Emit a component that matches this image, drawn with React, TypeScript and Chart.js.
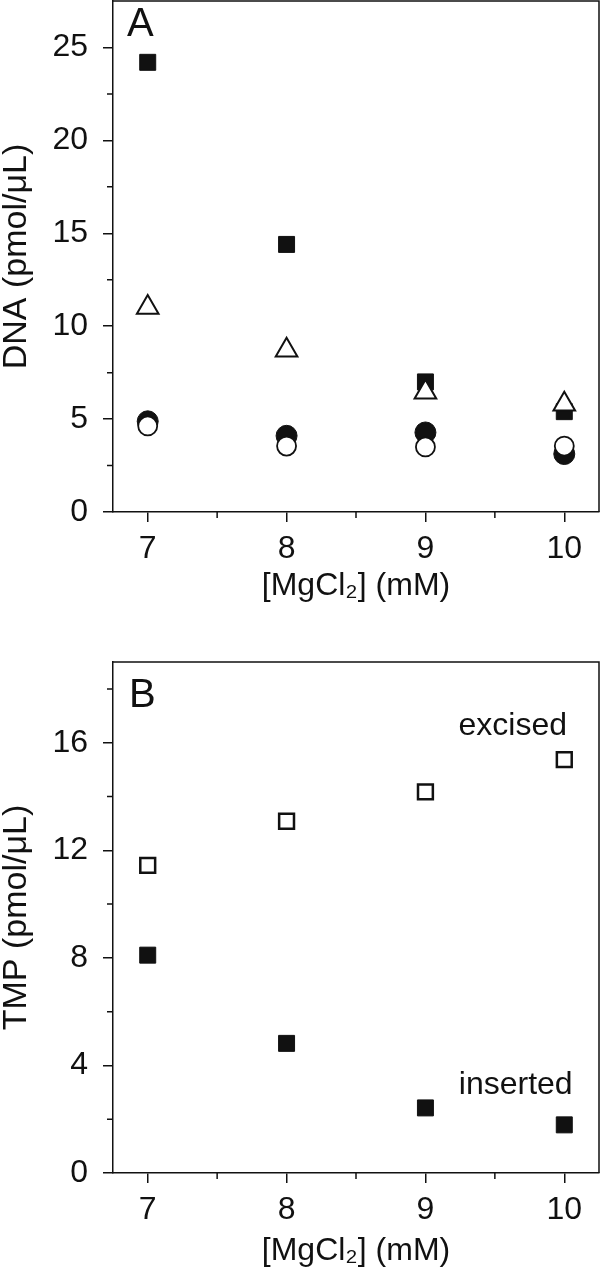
import React, { useEffect, useRef } from "react";
import { Chart, registerables } from "chart.js";

Chart.register(...registerables);

// ---------- data ----------
const mgcl2 = [7, 8, 9, 10];

// Panel A: DNA (pmol/µL)
const dnaFilledSquare = [24.2, 14.4, 7.0, 5.4];
const dnaOpenTriangle = [11.0, 8.7, 6.45, 5.8];
const dnaFilledCircle = [4.88, 4.1, 4.28, 3.12];
const dnaOpenCircle = [4.63, 3.55, 3.5, 3.55];

// Panel B: TMP (pmol/µL)
const tmpExcised = [11.44, 13.08, 14.17, 15.37];
const tmpInserted = [8.1, 4.82, 2.42, 1.79];

// ticks
const xMajor = [7, 8, 9, 10];
const xMinor = [7.5, 8.5, 9.5];
const yMajorA = [0, 5, 10, 15, 20, 25];
const yMinorA = [2.5, 7.5, 12.5, 17.5, 22.5];
const yMajorB = [0, 4, 8, 12, 16];
const yMinorB = [2, 6, 10, 14, 18];

const xTitle = "[MgCl\u2082] (mM)";
const yTitleA = "DNA (pmol/\u03bcL)";
const yTitleB = "TMP (pmol/\u03bcL)";

const FONT = "'Liberation Sans', Arial, Helvetica, sans-serif";
const INK = "#111";

const pts = (ys: number[]) => mgcl2.map((x, i) => ({ x, y: ys[i] }));

// ---------- plugins ----------
const framePlugin = {
  id: "frame",
  afterDraw(chart: any) {
    const { ctx, chartArea } = chart;
    ctx.save();
    ctx.strokeStyle = INK;
    ctx.lineWidth = 1.5;
    ctx.beginPath();
    ctx.moveTo(chartArea.left, chartArea.top);
    ctx.lineTo(chartArea.right, chartArea.top);
    ctx.lineTo(chartArea.right, chartArea.bottom);
    ctx.stroke();
    ctx.restore();
  },
};

const minorTickPlugin = {
  id: "minorTicks",
  afterDraw(chart: any, _args: any, opts: any) {
    const { ctx, chartArea, scales } = chart;
    ctx.save();
    ctx.strokeStyle = INK;
    ctx.lineWidth = 1.5;
    ctx.beginPath();
    (opts.x || []).forEach((v: number) => {
      const px = scales.x.getPixelForValue(v);
      ctx.moveTo(px, chartArea.bottom);
      ctx.lineTo(px, chartArea.bottom + opts.len);
    });
    (opts.y || []).forEach((v: number) => {
      const py = scales.y.getPixelForValue(v);
      ctx.moveTo(chartArea.left, py);
      ctx.lineTo(chartArea.left - opts.len, py);
    });
    ctx.stroke();
    ctx.restore();
  },
};

const textPlugin = {
  id: "panelText",
  afterDraw(chart: any, _args: any, opts: any) {
    const { ctx, chartArea, scales } = chart;
    ctx.save();
    ctx.fillStyle = INK;
    ctx.textBaseline = "alphabetic";
    if (opts.letter) {
      ctx.font = `40px ${FONT}`;
      ctx.textAlign = "left";
      ctx.fillText(opts.letter, chartArea.left + opts.letterDx, chartArea.top + opts.letterDy);
    }
    (opts.notes || []).forEach((n: any) => {
      ctx.font = `32px ${FONT}`;
      ctx.textAlign = "right";
      ctx.fillText(n.text, scales.x.getPixelForValue(n.x), scales.y.getPixelForValue(n.y));
    });
    ctx.restore();
  },
};

// ---------- config builder ----------
function buildConfig(p: {
  datasets: any[];
  yMax: number;
  yMajor: number[];
  yMinor: number[];
  yTitle: string;
  padTop: number;
  xAxisHeight: number;
  xTitlePadBottom: number;
  letter: string;
  letterDx: number;
  letterDy: number;
  notes: any[];
}) {
  return {
    type: "scatter" as const,
    data: { datasets: p.datasets },
    plugins: [framePlugin, minorTickPlugin, textPlugin],
    options: {
      animation: false,
      responsive: false,
      devicePixelRatio: 1,
      layout: { autoPadding: false, padding: { top: p.padTop, right: 1, left: 0, bottom: 0 } },
      plugins: {
        legend: { display: false },
        tooltip: { enabled: false },
        minorTicks: { x: xMinor, y: p.yMinor, len: 6 },
        panelText: { letter: p.letter, letterDx: p.letterDx, letterDy: p.letterDy, notes: p.notes },
      },
      scales: {
        x: {
          type: "linear",
          position: "bottom",
          min: 6.75,
          max: 10.25,
          afterBuildTicks: (s: any) => {
            s.ticks = xMajor.map((v) => ({ value: v }));
          },
          afterFit: (s: any) => {
            s.height = p.xAxisHeight;
            s.paddingLeft = 0;
            s.paddingRight = 0;
            s.paddingTop = 0;
            s.paddingBottom = 0;
          },
          grid: { drawOnChartArea: false, drawTicks: true, tickLength: 10, color: INK, lineWidth: 1.5 },
          border: { display: true, color: INK, width: 1.5 },
          ticks: {
            padding: 8,
            color: INK,
            maxRotation: 0,
            autoSkip: false,
            font: { size: 32, family: FONT },
            callback: (v: any) => String(v),
          },
          title: {
            display: true,
            text: xTitle,
            color: INK,
            font: { size: 32, family: FONT, lineHeight: 1 },
            padding: { top: 0, bottom: p.xTitlePadBottom },
          },
        },
        y: {
          type: "linear",
          min: 0,
          max: p.yMax,
          afterBuildTicks: (s: any) => {
            s.ticks = p.yMajor.map((v) => ({ value: v }));
          },
          afterFit: (s: any) => {
            s.width = 113;
            s.paddingLeft = 0;
            s.paddingRight = 0;
            s.paddingTop = 0;
            s.paddingBottom = 0;
          },
          grid: { drawOnChartArea: false, drawTicks: true, tickLength: 10, color: INK, lineWidth: 1.5 },
          border: { display: true, color: INK, width: 1.5 },
          ticks: {
            padding: 15,
            color: INK,
            autoSkip: false,
            font: { size: 32, family: FONT },
            callback: (v: any) => String(v),
          },
          title: {
            display: true,
            text: p.yTitle,
            color: INK,
            font: { size: 34, family: FONT, lineHeight: 1 },
            padding: { top: 0, bottom: 0 },
          },
        },
      },
    },
  };
}

function Panel({ width, height, config }: { width: number; height: number; config: any }) {
  const ref = useRef<HTMLCanvasElement | null>(null);
  useEffect(() => {
    if (!ref.current) return;
    const chart = new Chart(ref.current, config);
    return () => chart.destroy();
  }, []);
  return <canvas ref={ref} width={width} height={height} style={{ display: "block", width, height }} />;
}

export default function App() {
  const configA = buildConfig({
    datasets: [
      {
        label: "open circles",
        data: pts(dnaOpenCircle),
        pointStyle: "circle",
        pointRadius: 9.5,
        backgroundColor: "#fff",
        borderColor: INK,
        borderWidth: 1.8,
      },
      {
        label: "open triangles",
        data: pts(dnaOpenTriangle),
        pointStyle: "triangle",
        pointRadius: 12.5,
        backgroundColor: "#fff",
        borderColor: INK,
        borderWidth: 2,
      },
      {
        label: "filled circles",
        data: pts(dnaFilledCircle),
        pointStyle: "circle",
        pointRadius: 10.5,
        backgroundColor: INK,
        borderColor: INK,
        borderWidth: 1,
      },
      {
        label: "filled squares",
        data: pts(dnaFilledSquare),
        pointStyle: "rect",
        pointRadius: 11.3,
        backgroundColor: INK,
        borderColor: INK,
        borderWidth: 1,
      },
    ],
    yMax: 27.5,
    yMajor: yMajorA,
    yMinor: yMinorA,
    yTitle: yTitleA,
    padTop: 1,
    xAxisHeight: 128,
    xTitlePadBottom: 38,
    letter: "A",
    letterDx: 14,
    letterDy: 35,
    notes: [],
  });

  const configB = buildConfig({
    datasets: [
      {
        label: "excised",
        data: pts(tmpExcised),
        pointStyle: "rect",
        pointRadius: 10.5,
        backgroundColor: "#fff",
        borderColor: INK,
        borderWidth: 2.5,
      },
      {
        label: "inserted",
        data: pts(tmpInserted),
        pointStyle: "rect",
        pointRadius: 11.3,
        backgroundColor: INK,
        borderColor: INK,
        borderWidth: 1,
      },
    ],
    yMax: 19,
    yMajor: yMajorB,
    yMinor: yMinorB,
    yTitle: yTitleB,
    padTop: 22,
    xAxisHeight: 105,
    xTitlePadBottom: 11,
    letter: "B",
    letterDx: 16,
    letterDy: 45,
    notes: [
      { text: "excised", x: 10.02, y: 16.3 },
      { text: "inserted", x: 10.06, y: 2.95 },
    ],
  });

  return (
    <div style={{ position: "absolute", left: 0, top: 0, width: 600, height: 1278, background: "#fff" }}>
      <Panel width={600} height={640} config={configA} />
      <Panel width={600} height={638} config={configB} />
    </div>
  );
}
